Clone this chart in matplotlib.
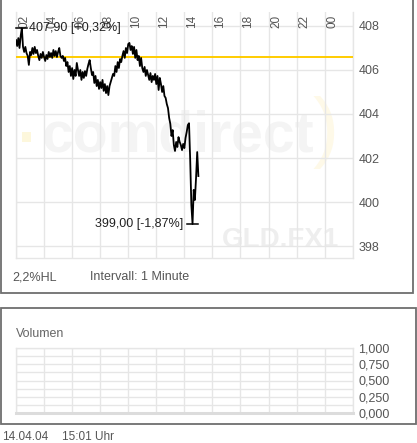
import numpy as np
import matplotlib
matplotlib.use("Agg")
import matplotlib.pyplot as plt
import matplotlib.transforms as mtransforms
from matplotlib.patches import Rectangle

plt.rcParams['font.family'] = ['Liberation Sans', 'DejaVu Sans']

# ---------------------------------------------------------------- data
prev_close = 406.60          # reference line (previous close)
start_hour = 2.0             # first sample 02:00
step_minutes = 5             # sampling interval of the series below

prices = [
    407.36, 407.09, 407.45, 407.00, 407.55, 407.90, 407.05, 406.82, 407.05, 406.77,
    406.64, 406.23, 406.82, 406.68, 407.00, 406.73, 407.05, 406.77, 406.91, 406.64,
    406.45, 406.73, 406.55, 406.82, 406.59, 406.41, 406.68, 406.50, 406.82, 406.59,
    406.77, 406.55, 406.91, 406.64, 406.86, 406.59, 406.82, 407.00, 406.64, 406.55,
    406.64, 406.41, 406.55, 406.18, 406.36, 405.91, 406.18, 405.73, 406.09, 405.59,
    406.00, 405.73, 406.32, 406.00, 405.73, 406.00, 405.55, 405.91, 405.64, 405.95,
    405.73, 406.05, 406.27, 406.45, 406.09, 405.77, 405.91, 405.41, 405.73, 405.27,
    405.55, 405.14, 405.45, 405.18, 405.55, 405.05, 405.36, 404.95, 405.27, 404.86,
    405.27, 405.45, 405.64, 405.82, 405.73, 406.18, 405.91, 406.36, 406.09, 406.50,
    406.36, 406.64, 406.86, 406.55, 407.00, 406.77, 407.18, 407.23, 406.91, 407.09,
    406.73, 407.05, 406.55, 406.91, 406.45, 406.64, 406.18, 406.55, 406.09, 405.91,
    406.14, 405.73, 406.00, 405.77, 405.55, 405.86, 405.45, 405.73, 405.55, 405.82,
    405.36, 405.73, 405.09, 405.64, 405.36, 405.00, 405.27, 404.82, 404.73, 404.45,
    404.27, 403.82, 403.55, 403.00, 403.27, 402.59, 402.32, 402.73, 402.50, 402.95,
    402.73, 402.59, 402.36, 402.64, 402.45, 402.91, 403.18, 403.50, 403.58, 401.91,
    399.86, 399.00, 400.55, 400.09, 401.09, 402.27, 401.18,
]

hour_ticks = [2, 4, 6, 8, 10, 12, 14, 16, 18, 20, 22, 24, 26]
hour_labels = ['02', '04', '06', '08', '10', '12', '14', '16', '18', '20', '22', '00']
price_ticks = [398, 400, 402, 404, 406, 408]
volume_ticks = [0.0, 0.25, 0.5, 0.75, 1.0]
volume_minor = [0.125, 0.375, 0.625, 0.875]

range_label = '2,2%HL'
interval_label = 'Intervall: 1 Minute'
volume_title = 'Volumen'
stamp_date = '14.04.04'
stamp_time = '15:01 Uhr'
symbol = 'GLD.FX1'
brand = 'comdirect'

times = start_hour + np.arange(len(prices)) * step_minutes / 60.0

# ---------------------------------------------------------------- figure
W, H = 417, 443
fig = plt.figure(figsize=(W / 100, H / 100), dpi=100)
fig.patch.set_facecolor('white')

GRID = '#e6e6e6'
LABEL = '#555555'
BORDER = '#6e6e6e'


def frame(x0, y0, x1, y1):
    """Axes rectangle from pixel corners (origin top-left)."""
    return [x0 / W, 1 - y1 / H, (x1 - x0) / W, (y1 - y0) / H]


# canvas in pixel units for panels, watermarks and captions
bg = fig.add_axes([0, 0, 1, 1], zorder=0)
bg.set_xlim(0, W)
bg.set_ylim(H, 0)
bg.axis('off')

bg.add_patch(Rectangle((0.6, -3), 412.4, 296, fill=False, ec=BORDER, lw=1.3))
bg.add_patch(Rectangle((0.7, 308.3), 415.3, 115.7, fill=False, ec=BORDER, lw=1.3))

# watermarks
bg.add_patch(Rectangle((22, 132), 9, 10, color='#fdf7dc', lw=0))
bg.text(42, 152, brand, fontsize=41, fontweight='bold', color='#f4f4f4',
        ha='left', va='baseline')
bg.text(313, 153, ')', fontsize=56, color='#fef9e8', ha='left', va='baseline')
bg.text(222, 247, symbol, fontsize=20, fontweight='bold', color='#eeeeee',
        ha='left', va='baseline')

bg.text(12, 277, range_label, fontsize=9, color=LABEL, va='center', ha='left')
bg.text(90, 277, interval_label, fontsize=9, color=LABEL, va='center', ha='left')
bg.text(16, 334, volume_title, fontsize=9, color='#666666', va='center', ha='left')
bg.text(2, 437, stamp_date, fontsize=8.5, color=LABEL, va='center', ha='left')
bg.text(62, 437, stamp_time, fontsize=8.5, color=LABEL, va='center', ha='left')

# ---------------------------------------------------------------- price panel
ax = fig.add_axes(frame(16, 12, 352.7, 258), zorder=2)
ax.set_facecolor('none')
ax.set_xlim(hour_ticks[0], hour_ticks[-1])
ax.set_ylim(397.455, 408.636)
ax.set_xticks(hour_ticks)
ax.set_yticks(price_ticks)
ax.set_xticklabels([])
ax.set_yticklabels([str(v) for v in price_ticks])
ax.yaxis.tick_right()
ax.tick_params(axis='both', length=0)
ax.tick_params(axis='y', pad=4, labelsize=9, labelcolor=LABEL)
ax.grid(True, color=GRID, lw=1)
ax.set_axisbelow(True)
ax.spines['top'].set_visible(False)
for s in ('left', 'right', 'bottom'):
    ax.spines[s].set_color(GRID)
    ax.spines[s].set_linewidth(1)

lab_trans = mtransforms.blended_transform_factory(ax.transData, ax.transAxes) + \
    mtransforms.ScaledTranslation(2 / 100, -3 / 100, fig.dpi_scale_trans)
for h, lab in zip(hour_ticks, hour_labels):
    ax.text(h, 1, lab, transform=lab_trans, rotation=90, ha='left', va='top',
            fontsize=8.5, color=LABEL)

ax.axhline(prev_close, color='#ffcc00', lw=1.4, zorder=3)
ax.plot(times, prices, color='black', lw=1.3, zorder=4)


def de(v):
    return f"{v:.2f}".replace('.', ',')


def pct(v):
    return f"{(v / prev_close - 1) * 100:+.2f}".replace('.', ',') + '%'


hi = int(np.argmax(prices))
lo = int(np.argmin(prices))
half = 5.5 / 14.0  # tick half-width in hours
for idx, off, ha in ((hi, 7, 'left'), (lo, -9, 'right')):
    t, p = times[idx], prices[idx]
    ax.plot([t - half, t + half], [p, p], color='black', lw=1.1, zorder=5,
            clip_on=False)
    ax.annotate(f"{de(p)} [{pct(p)}]", xy=(t, p), xytext=(off, 0),
                textcoords='offset pixels', ha=ha, va='center',
                fontsize=9, color='#222222', zorder=6)

# ---------------------------------------------------------------- volume panel
av = fig.add_axes(frame(16, 347.7, 352.7, 413.3), zorder=2)
av.set_facecolor('none')
av.set_xlim(hour_ticks[0], hour_ticks[-1])
av.set_ylim(0, 1)
av.set_xticks(hour_ticks)
av.set_xticklabels([])
av.set_yticks(volume_ticks)
av.set_yticks(volume_minor, minor=True)
av.set_yticklabels([f"{v:.3f}".replace('.', ',') for v in volume_ticks])
av.yaxis.tick_right()
av.tick_params(axis='both', which='both', length=0)
av.tick_params(axis='y', pad=4, labelsize=9, labelcolor=LABEL)
av.grid(True, which='both', color=GRID, lw=1)
for s in ('left', 'right', 'top'):
    av.spines[s].set_color(GRID)
    av.spines[s].set_linewidth(1)
av.spines['bottom'].set_color('#dcdcdc')
av.spines['bottom'].set_linewidth(2.2)

fig.savefig('out.png', dpi=100, facecolor='white')
